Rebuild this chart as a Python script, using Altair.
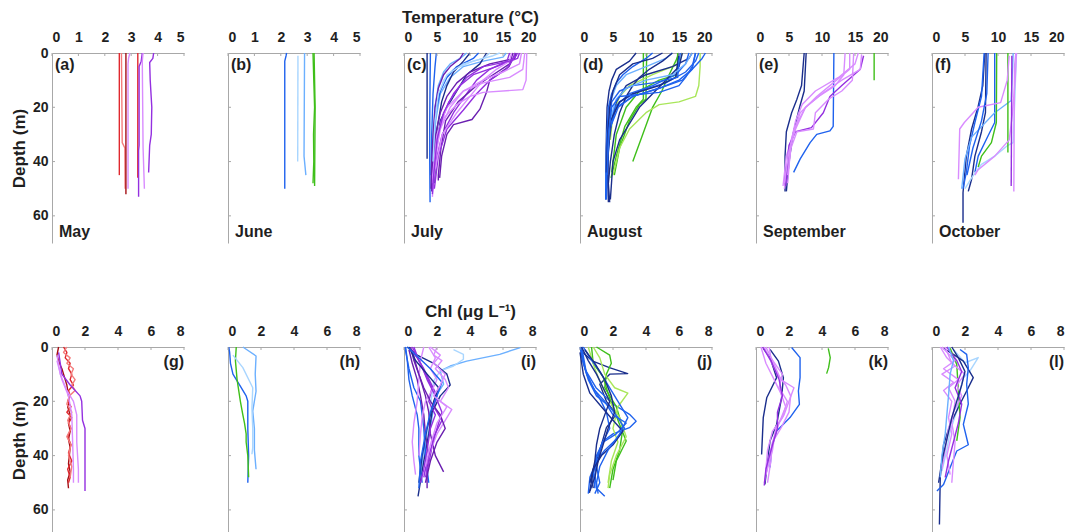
import altair as alt
import pandas as pd

FONT = "Liberation Sans"
TXT = "#1f1f1f"
AX = "#a8a8a8"
COLORS = {
    "dred": "#a50f15", "red": "#e0282e", "lred": "#f47c7c",
    "purple": "#9430e0", "dpurple": "#6a1fb0", "orchid": "#d98cff",
    "navy": "#1a2e8c", "blue": "#1f62ee", "lblue": "#6cb0ff", "vlblue": "#a9d6ff",
    "green": "#3fbf1a", "lgreen": "#a9e65a",
}

# ---- profiles: (colour key, depths in m, values) ----
TEMP_MAY = [
    ("red", [0, 45], [2.55, 2.55]),
    ("lred", [0, 33, 35, 50], [2.63, 2.66, 2.76, 2.77]),
    ("dred", [0, 52], [2.8, 2.8]),
    ("orchid", [0, 2, 4, 50], [2.95, 2.9, 2.88, 2.88]),
    ("red", [0, 46], [3.25, 3.25]),
    ("purple", [0, 3, 5, 34, 36, 53], [3.42, 3.38, 3.3, 3.3, 3.28, 3.28]),
    ("orchid", [0, 3, 35, 50], [3.45, 3.42, 3.45, 3.5]),
    ("purple", [0, 2, 3.5, 10, 20, 30, 34, 44], [3.85, 3.82, 3.7, 3.72, 3.78, 3.76, 3.7, 3.66]),
]
TEMP_JUN = [
    ("blue", [0, 1, 3, 50], [2.22, 2.2, 2.15, 2.15]),
    ("vlblue", [1, 40], [2.65, 2.64]),
    ("lblue", [0, 38, 40, 45], [2.9, 2.88, 2.9, 2.95]),
    ("green", [0, 10, 20, 30, 40, 48], [3.22, 3.25, 3.28, 3.24, 3.25, 3.22]),
    ("green", [0, 20, 49], [3.26, 3.3, 3.28]),
]
TEMP_JUL = [
    ("navy", [0, 39], [3.5, 3.5]),
    ("blue", [0, 10, 25, 40, 55], [4.0, 3.95, 3.9, 3.9, 3.95]),
    ("blue", [0, 5, 15, 30, 45], [4.9, 4.7, 4.4, 4.2, 4.1]),
    ("lblue", [0, 2, 4, 7, 12, 20, 35, 48], [9.5, 8.5, 7, 6, 5.2, 4.7, 4.4, 4.3]),
    ("vlblue", [0, 1, 3, 6, 10, 18, 30, 45], [14.5, 13.5, 10.5, 7.5, 6, 5, 4.6, 4.4]),
    ("lblue", [0, 1.5, 3, 5, 9, 15, 25, 40], [15.5, 15, 12, 9, 7, 5.5, 4.8, 4.5]),
    ("blue", [0, 2, 5, 9, 14, 22, 35, 50], [11.3, 10.5, 8, 6.5, 5.5, 4.8, 4.4, 4.2]),
    ("navy", [0, 3, 7, 12, 18, 28, 40, 50], [10, 9, 7.5, 6.5, 5.7, 5, 4.6, 4.3]),
    ("navy", [0, 4, 8, 14, 20, 25, 35, 48], [12.5, 11.5, 9.5, 8, 6.5, 5.5, 4.9, 4.6]),
    ("dpurple", [0, 1, 5, 10, 14.5, 20.7, 24.5, 26.4, 30, 38, 46], [16.8, 16.7, 15.9, 13, 12.5, 11.5, 10.3, 7.5, 6.5, 5.7, 5.4]),
    ("dpurple", [0, 2, 4, 7, 11, 16, 22, 30, 42, 51], [17, 16.8, 13, 10, 8, 6.5, 5.5, 4.8, 4.3, 4.2]),
    ("purple", [0, 2, 5, 8, 12, 18, 25, 35, 50], [17.5, 17.2, 14, 10.5, 8.5, 6.8, 5.6, 4.8, 4.4]),
    ("purple", [0, 3, 6, 10, 15, 22, 30, 40, 48], [16, 15.6, 13, 11, 9.5, 7.5, 5.8, 4.8, 4.3]),
    ("dpurple", [0, 4, 8, 12, 18, 25, 35, 45, 47], [16.5, 16, 13.5, 11, 8.2, 6.3, 5.6, 5.2, 5.2]),
    ("purple", [0, 2, 6, 10, 15, 21, 28, 38, 50], [16.8, 16.6, 15.5, 13, 11, 9, 6.5, 5.2, 4.6]),
    ("orchid", [0, 10, 13.5, 14.5, 16, 19, 24, 32, 45], [18.6, 18.5, 18, 12, 10, 8, 6, 5, 4.5]),
    ("orchid", [0, 6, 9, 11, 14, 20, 28, 40, 53], [18.3, 18, 16, 12, 9, 7, 5.5, 4.7, 4.3]),
    ("orchid", [0, 4, 7, 10, 14, 20, 30, 48], [17.8, 17.5, 15, 12, 9, 6.5, 5, 4.2]),
    ("orchid", [0, 3, 6, 10, 16, 22, 30, 44], [16.3, 16, 14, 12, 10, 8, 5.8, 4.6]),
    ("purple", [0, 1, 3, 5, 9, 15, 22, 32, 45, 52], [17.2, 17, 16, 12, 9.5, 7.5, 6, 5, 4.5, 4.3]),
    ("dpurple", [0, 2, 5, 8, 13, 20, 30, 40, 50], [9, 8.5, 7, 6, 5.2, 4.7, 4.4, 4.2, 4.1]),
    ("vlblue", [0, 2, 4, 8, 15, 25, 40], [13, 12, 9, 6.5, 5.2, 4.7, 4.4]),
]
TEMP_AUG = [
    ("green", [0, 17, 19, 25, 35, 45], [10.1, 10.0, 9, 7.5, 6, 5.2]),
    ("green", [0, 17, 20, 27, 38, 46], [9.6, 9.6, 8.5, 6.8, 5.5, 4.7]),
    ("green", [0, 3, 8, 14, 20, 30, 40], [15, 14.5, 13.5, 12.4, 11, 9.5, 8.0]),
    ("green", [0, 8, 10, 14, 20, 30, 44], [14.8, 14.7, 12, 9, 7, 5.5, 4.8]),
    ("lgreen", [0, 5, 12, 16, 18, 19, 22, 28, 35, 45], [18.2, 18.2, 18, 17.5, 15, 12, 10, 7.5, 6, 5]),
    ("lgreen", [0, 4, 8, 12, 16, 22, 32], [15.5, 15, 11, 7.5, 6, 5, 4.6]),
    ("navy", [0, 3, 6, 10, 14, 20, 30, 45, 54], [8.5, 7.5, 5.5, 4.8, 4.4, 4.1, 4.0, 3.9, 3.9]),
    ("navy", [0, 2, 5, 8, 12, 18, 25, 35, 45, 55], [17, 16.5, 14, 10, 7, 5.5, 4.8, 4.3, 4.2, 4.5]),
    ("blue", [0, 2, 6, 10, 13, 16, 20, 30, 45, 54], [19, 18.5, 17, 15, 12, 8, 5.5, 4.3, 4, 3.9]),
    ("blue", [0, 3, 7, 11, 14, 18, 25, 40, 53], [18, 17.5, 16, 13, 9, 6, 4.6, 4.1, 4.0]),
    ("blue", [0, 4, 8, 12, 15, 20, 30, 50], [16.5, 16, 14.5, 11, 7.5, 5.2, 4.4, 4.0]),
    ("lblue", [0, 2, 5, 8, 12, 18, 30, 50], [14, 13, 10, 7, 5.5, 4.6, 4.1, 3.9]),
    ("navy", [0, 3, 6, 9, 12, 16, 22, 30, 40, 48], [14, 12.5, 10.5, 9, 8, 7, 6, 5.2, 4.6, 4.3]),
    ("navy", [0, 5, 10, 15, 20, 26, 32, 40, 54], [15.5, 15, 13, 11, 9, 7.5, 6, 5, 4.6]),
    ("blue", [0, 2, 5, 8, 11, 15, 20, 35, 52], [11, 10, 8, 6.5, 5.5, 4.8, 4.3, 4.0, 3.9]),
    ("blue", [0, 6, 10, 13, 16, 20, 28, 45, 54], [17.5, 17, 15.5, 12, 8, 5.8, 4.5, 4.1, 4.0]),
    ("navy", [0, 4, 9, 12, 15, 18, 25, 40, 55], [15, 14.8, 14.5, 12, 8, 6, 4.6, 4.2, 4.3]),
    ("blue", [0, 3, 9, 11, 12, 14, 18, 30, 50], [15.2, 15, 14.8, 11, 8, 6, 4.8, 4.2, 4.0]),
    ("lblue", [0, 4, 8, 10, 13, 17, 25, 40], [17, 16, 14, 10, 7, 5.5, 4.5, 4.1]),
    ("navy", [0, 2, 4, 8, 14, 20, 30, 44], [12.5, 11, 8, 6, 5, 4.5, 4.2, 4.0]),
    ("blue", [0, 5, 9, 12, 14.5, 16, 20, 30, 45], [17.5, 17, 16, 15, 12, 6, 4.8, 4.3, 4.1]),
]
TEMP_SEP = [
    ("green", [0, 10], [17.9, 17.9]),
    ("blue", [0, 27, 28.7, 30, 33, 39, 44], [11.8, 11.7, 11.2, 9.2, 8.2, 6.7, 5.7]),
    ("navy", [0, 12, 17, 22, 29, 38, 51], [7.3, 6.9, 6.2, 5.4, 4.6, 4.4, 4.4]),
    ("navy", [0, 14, 20, 30, 40, 51], [7.6, 7.3, 6.6, 5.6, 5.0, 4.6]),
    ("orchid", [0, 6, 11, 16, 22, 29, 38, 49], [14.2, 14.2, 11.7, 9.2, 6.7, 5.7, 4.6, 4.1]),
    ("orchid", [0, 8, 12, 16, 20, 26, 34, 44, 50], [13.5, 13.3, 12, 9.5, 7.5, 6.2, 5.2, 4.6, 4.3]),
    ("purple", [1, 6, 12, 16, 22, 27.5, 29, 34, 49], [16.3, 15.8, 13, 11.2, 10.2, 8.4, 6, 5, 4.5]),
    ("orchid", [0.5, 6, 10, 15, 20, 28, 36, 48], [16, 15.8, 13, 10, 7.5, 6, 5, 4.3]),
    ("orchid", [0, 10, 14, 17, 22, 28, 29, 35, 45], [14.8, 14.6, 13, 11, 9, 8.7, 6.2, 5.3, 4.8]),
    ("orchid", [0, 4, 9, 14, 19, 25, 33, 48], [15.5, 15, 12.5, 9, 7, 6, 5.3, 4.8]),
]
TEMP_OCT = [
    ("navy", [0, 12, 19.6, 28, 38, 51.5, 62.5], [8.0, 7.7, 7.0, 6.0, 5.2, 4.7, 4.7]),
    ("navy", [0, 22, 29, 38, 46.5, 51], [8.2, 8.1, 7.5, 6.5, 6.0, 5.5]),
    ("blue", [0, 16, 25.6, 34, 44, 50], [7.9, 7.5, 6.5, 5.7, 5.2, 4.7]),
    ("blue", [0, 25.6, 30.5, 38, 44], [9.5, 9.5, 8.5, 7.0, 6.5]),
    ("lblue", [0, 17.5, 22, 31, 39, 50], [12.3, 12.0, 9.5, 6.0, 5.0, 4.5]),
    ("vlblue", [0, 33, 34, 38, 41, 46, 50], [12.8, 12.3, 11.5, 9.5, 7.5, 6.0, 5.0]),
    ("green", [0, 25.6, 33, 38, 42], [9.8, 9.75, 9.0, 7.5, 7.0]),
    ("green", [0, 36.7], [11.5, 11.5]),
    ("orchid", [1, 10, 18.3, 20, 25.6, 28, 46.5], [11.7, 11.4, 10.4, 7.0, 4.9, 4.2, 4.0]),
    ("orchid", [0, 10, 22, 32, 38, 43, 45], [12.8, 12.6, 12.2, 11.7, 9.5, 7.0, 6.5]),
    ("purple", [1, 49], [12.1, 12.0]),
    ("orchid", [0, 5, 51], [12.7, 12.5, 12.4]),
    ("blue", [0, 15, 25, 35, 45], [8.5, 8.3, 7.5, 6.2, 5.3]),
]
CHL_MAY = [
    ("dred", [0, 3, 6, 8, 10, 12, 14, 16, 18, 20, 22, 25, 28, 31, 34, 37, 40, 43, 46, 49, 52],
     [0.4, 0.3, 0.45, 0.6, 0.7, 0.8, 0.9, 0.95, 1.0, 1.05, 0.95, 1.1, 1.0, 1.1, 1.0, 1.1, 1.05, 1.0, 1.1, 0.95, 1.0]),
    ("red", [0, 2, 4, 6, 8, 10, 12, 14, 16, 18, 20, 22, 24, 26, 28, 30, 33, 36, 39, 42, 45, 48, 50],
     [0.7, 0.9, 0.8, 1.1, 1.0, 1.2, 1.1, 1.3, 1.0, 1.1, 0.95, 1.15, 0.9, 1.2, 1.0, 1.15, 0.95, 1.15, 1.0, 1.2, 0.95, 1.1, 1.0]),
    ("lred", [0, 2, 4, 6, 8, 10, 12, 14, 16, 18, 21, 24, 27, 30, 33, 36, 40, 44, 48],
     [0.9, 0.7, 1.1, 0.9, 1.3, 1.15, 1.4, 1.2, 1.4, 1.05, 0.9, 1.2, 0.95, 1.15, 0.9, 1.15, 1.0, 1.2, 1.1]),
    ("purple", [2, 10, 14, 18, 20, 27, 30, 40, 53], [0.4, 0.6, 1.1, 1.7, 1.8, 1.85, 2.0, 2.0, 2.0]),
    ("orchid", [3, 10, 16, 20, 25, 35, 45, 50], [0.3, 0.5, 0.9, 1.3, 1.5, 1.5, 1.6, 1.6]),
    ("orchid", [5, 12, 18, 25, 35, 45, 50], [0.3, 0.6, 1.0, 1.2, 1.25, 1.3, 1.3]),
]
CHL_JUN = [
    ("blue", [0, 2, 6, 10, 15, 18, 20, 30, 40, 50], [0.05, 0.1, 0.15, 0.3, 0.8, 1.1, 1.2, 1.2, 1.25, 1.2]),
    ("green", [0, 5, 12, 20, 25, 28, 32, 35, 40, 48], [0.5, 0.45, 0.55, 0.75, 0.9, 1.0, 1.1, 1.1, 1.2, 1.25]),
    ("lblue", [0, 3.3, 10, 16.3, 23.6, 30, 38, 45], [0.9, 1.7, 1.65, 1.7, 1.5, 1.6, 1.6, 1.7]),
    ("vlblue", [3, 7.6, 15, 22.6, 30, 37, 39.5], [0.3, 0.9, 1.5, 1.45, 1.5, 1.5, 1.45]),
]
CHL_JUL = [
    ("lblue", [0.2, 2.7, 5.2, 7, 8.8, 11.3, 13.7, 17.4, 22, 29.7, 38, 47], [7.05, 5.8, 3.8, 2.8, 2.2, 2.3, 2.4, 2.0, 1.8, 1.6, 1.2, 1.0]),
    ("vlblue", [1, 2.7, 4.5, 7, 8.8, 12.5, 22, 34, 44], [3.0, 3.6, 3.6, 3.0, 2.2, 1.8, 1.6, 1.4, 1.2]),
    ("navy", [0, 3, 6, 10, 14, 18, 24, 32, 42, 55], [0.2, 0.8, 1.8, 2.6, 2.8, 2.2, 1.7, 1.5, 1.2, 0.85]),
    ("blue", [0, 5, 12, 18, 25, 30, 40, 50], [0.1, 0.2, 0.3, 0.5, 0.8, 0.9, 0.9, 1.1]),
    ("blue", [0, 8, 15, 20, 30, 40, 50], [0.05, 0.3, 0.6, 1.0, 1.2, 1.3, 1.5]),
    ("dpurple", [1, 6, 12, 18, 24, 32, 40, 46], [0.5, 0.7, 1.0, 1.3, 1.5, 1.6, 1.9, 2.4]),
    ("dpurple", [1, 6, 12, 18, 25, 32, 40, 46, 52], [0.3, 0.5, 0.8, 1.0, 1.2, 1.3, 1.5, 1.4, 1.4]),
    ("purple", [1, 4, 8, 13, 18, 22, 27, 33, 40, 48], [0.4, 0.8, 1.2, 1.6, 2.0, 1.8, 2.3, 1.8, 1.6, 1.3]),
    ("purple", [0, 5, 10, 15, 20, 25, 30, 38, 45, 50], [0.6, 0.9, 1.3, 1.7, 1.5, 1.9, 1.6, 1.4, 1.2, 1.0]),
    ("orchid", [0, 3, 5, 8, 12, 15, 20, 23, 27, 32, 40, 47], [2.0, 1.8, 2.3, 1.9, 2.5, 2.7, 2.2, 2.9, 2.5, 2.0, 1.5, 1.2]),
    ("orchid", [0, 5, 12, 20, 28, 35, 42, 47], [1.2, 1.0, 0.9, 0.8, 0.6, 0.5, 0.6, 0.7]),
    ("orchid", [0, 4, 8, 12, 16, 20, 26, 32, 40], [1.5, 1.9, 1.6, 2.0, 1.7, 1.3, 1.1, 1.0, 0.9]),
    ("purple", [0, 6, 12, 18, 24, 30, 36, 42, 48], [0.5, 1.0, 1.4, 1.9, 2.3, 2.0, 1.7, 1.4, 1.2]),
    ("dpurple", [0, 5, 10, 15, 20, 25, 30, 35, 42, 50], [0.4, 0.6, 0.9, 1.2, 1.6, 2.2, 2.5, 2.0, 1.6, 1.3]),
    ("navy", [0, 5, 10, 15, 20, 30, 40, 50], [0.3, 0.7, 1.4, 2.1, 1.8, 1.4, 1.1, 0.9]),
    ("blue", [0, 4, 8, 13, 18, 24, 32, 42, 52], [0.2, 0.9, 1.6, 2.3, 2.0, 1.6, 1.3, 1.0, 0.9]),
    ("orchid", [0, 3, 6, 10, 14, 18, 22, 28, 36, 44], [1.6, 2.2, 1.8, 2.5, 2.2, 1.8, 2.6, 2.0, 1.6, 1.3]),
]
CHL_AUG = [
    ("navy", [1.5, 5.2, 7.6, 9.8, 10, 13.7, 20, 24.8, 29.7, 38, 47, 53.7], [0.06, 0.77, 1.78, 2.89, 1.8, 1.2, 1.6, 2.2, 1.6, 1.2, 0.77, 0.57]),
    ("blue", [2.7, 8.8, 15, 21, 24.8, 27.3, 29.7, 32, 34.6, 40.8, 47, 52, 55], [0.06, 0.36, 0.97, 2.0, 3.0, 3.4, 3.0, 2.0, 1.4, 1.0, 0.9, 1.0, 1.5]),
    ("green", [0, 6, 11, 19, 28.5, 34.6, 42, 49], [0.7, 0.8, 1.4, 1.8, 2.4, 2.8, 2.2, 2.0]),
    ("green", [0, 3, 6, 10, 15, 22, 30, 38, 45, 52], [1.0, 1.8, 1.9, 1.6, 1.5, 2.2, 2.6, 2.4, 2.0, 1.8]),
    ("lgreen", [0, 4, 10, 15, 17, 22, 30, 35, 42, 50], [0.8, 1.2, 1.5, 2.1, 2.9, 2.3, 2.0, 2.3, 1.9, 1.7]),
    ("lgreen", [0, 8, 14, 20, 26, 33, 40, 47, 52], [0.5, 0.9, 1.3, 1.8, 2.4, 2.8, 2.2, 1.8, 1.7]),
    ("blue", [0, 6, 12, 18, 22, 26, 30, 34, 38, 42, 48, 54], [0.0, 0.2, 0.5, 1.0, 1.8, 2.3, 2.7, 2.2, 1.5, 1.0, 0.6, 0.5]),
    ("blue", [0, 10, 16, 20, 25, 28, 32, 35, 40, 46, 52], [0.1, 0.4, 0.9, 1.5, 2.0, 2.8, 2.2, 1.4, 1.0, 0.8, 0.9]),
    ("blue", [0, 8, 14, 19, 24, 30, 36, 44, 50, 54], [0.05, 0.3, 0.7, 1.2, 1.6, 1.8, 1.3, 1.0, 1.2, 0.9]),
    ("navy", [2, 10, 17, 22, 27, 31, 36, 40, 45, 50], [0.0, 0.2, 0.6, 1.3, 2.0, 2.6, 2.0, 1.3, 0.8, 0.6]),
    ("navy", [0, 5, 10, 15, 20, 25, 30, 36, 42, 48, 52], [0.1, 0.5, 1.0, 1.4, 1.8, 1.5, 1.2, 1.0, 0.9, 0.7, 0.8]),
    ("blue", [0, 4, 9, 14, 20, 26, 32, 38, 44, 50, 54], [0.2, 0.6, 1.2, 1.7, 2.3, 2.9, 2.4, 1.7, 1.2, 1.0, 1.1]),
    ("navy", [1, 6, 12, 18, 24, 30, 36, 42, 48, 53], [0.3, 0.9, 1.5, 1.9, 2.1, 1.7, 1.4, 1.1, 0.9, 0.6]),
]
CHL_SEP = [
    ("green", [0.5, 3.9, 7.6, 9.8], [4.38, 4.5, 4.4, 4.28]),
    ("blue", [0.2, 3.9, 11.3, 16.2, 21.1, 26, 30.9, 37, 44.4], [2.16, 2.67, 2.67, 2.57, 2.63, 2.06, 1.25, 0.95, 0.85]),
    ("navy", [0.5, 3.9, 11.3, 18.7, 26, 39.6], [0.44, 0.85, 1.25, 0.65, 0.44, 0.34]),
    ("navy", [0.9, 5.2, 11.3, 18.7, 28.5, 34.6, 50.6], [0.85, 1.36, 1.66, 1.55, 1.25, 0.85, 0.54]),
    ("orchid", [0, 4, 10, 14, 18, 24, 30, 35, 42, 50], [0.5, 0.8, 1.3, 1.8, 2.1, 2.0, 1.5, 1.0, 0.9, 0.7]),
    ("orchid", [0, 5, 12, 15, 20, 25, 30, 38, 47], [0.6, 1.0, 1.5, 2.3, 2.0, 1.7, 1.2, 1.0, 0.6]),
    ("orchid", [0, 6, 12, 17, 22, 28, 33, 40, 50], [0.3, 0.6, 1.1, 1.5, 1.8, 1.4, 1.1, 0.8, 0.5]),
    ("orchid", [0, 4, 10, 15, 20, 26, 31, 38, 45], [0.8, 0.9, 1.6, 1.4, 1.9, 1.6, 1.0, 0.7, 0.6]),
    ("purple", [0, 5, 12, 18, 24, 30, 36, 45, 51], [0.4, 0.9, 1.4, 1.6, 1.3, 1.3, 1.0, 0.6, 0.5]),
]
CHL_OCT = [
    ("vlblue", [0.9, 5.8, 3.9, 8.8, 11.3, 16.2, 23.6, 31, 38, 45.7], [1.3, 2.0, 2.8, 2.3, 1.9, 1.7, 1.5, 1.1, 0.9, 0.6]),
    ("navy", [0.5, 2.7, 5.2, 11.3, 16.2, 21, 28.5, 36, 48, 65.4], [0.7, 1.3, 1.9, 2.5, 2.1, 1.7, 1.1, 0.7, 0.5, 0.45]),
    ("blue", [0.9, 2.7, 7.6, 13.8, 21, 28.5, 36, 38.3, 44.4, 50.6, 53], [1.7, 2.1, 2.2, 2.1, 2.2, 1.9, 2.2, 1.5, 1.1, 0.7, 0.3]),
    ("green", [0.5, 6.4, 16.2, 26, 34.6], [1.1, 1.5, 1.6, 1.7, 1.5]),
    ("orchid", [0, 4, 7, 10, 13, 16, 20, 26, 32, 40, 47], [0.5, 0.9, 1.4, 0.6, 1.3, 0.7, 1.2, 1.0, 1.2, 0.9, 1.1]),
    ("orchid", [0, 5, 8, 12, 15, 20, 28, 35, 42, 50], [0.6, 1.4, 0.7, 1.6, 1.0, 1.4, 1.2, 1.4, 1.3, 1.2]),
    ("orchid", [0, 6, 10, 14, 18, 24, 30, 38, 45], [0.8, 1.2, 2.0, 1.5, 1.8, 1.3, 1.0, 0.8, 0.6]),
    ("purple", [0, 5, 9, 15, 21, 28, 35, 42, 48], [0.9, 1.5, 1.8, 1.4, 1.8, 1.6, 1.3, 1.0, 0.8]),
    ("navy", [0, 4, 9, 14, 20, 26, 34, 42, 50], [1.2, 1.6, 2.0, 1.8, 1.5, 1.2, 0.9, 0.6, 0.4]),
    ("lblue", [0, 5, 10, 18, 25, 32, 40, 48], [1.0, 1.3, 1.1, 1.0, 0.9, 0.8, 0.6, 0.5]),
]

MONTHS = ["May", "June", "July", "August", "September", "October"]
LETTERS_TOP = ["(a)", "(b)", "(c)", "(d)", "(e)", "(f)"]
LETTERS_BOT = ["(g)", "(h)", "(i)", "(j)", "(k)", "(l)"]
TEMP_TICKS_SMALL = [0, 1, 2, 3, 4, 5]
TEMP_TICKS_LARGE = [0, 5, 10, 15, 20]
CHL_TICKS = [0, 2, 4, 6, 8]
DEPTH_TICKS = [0, 20, 40, 60]

W = 132
H_TOP, H_BOT = 190, 186
DMAX_TOP, DMAX_BOT = 70, 68.5


def profiles_df(profiles):
    rows = []
    for pid, (ck, depths, vals) in enumerate(profiles):
        for k, (d, v) in enumerate(zip(depths, vals)):
            rows.append(dict(pid=pid, ord=k, depth=d, val=v, col=COLORS[ck]))
    return pd.DataFrame(rows)


def panel(profiles, xmax, xticks, dmax, h, first, xtitle, letter, letter_right, month):
    df = profiles_df(profiles)
    xs = alt.Scale(domain=[0, xmax], nice=False)
    ys = alt.Scale(domain=[0, dmax], reverse=True, nice=False)
    if xtitle:
        xaxis = alt.Axis(orient="top", values=xticks, title=xtitle, labelPadding=9, titlePadding=4)
    else:
        xaxis = alt.Axis(orient="top", values=xticks, title=None, labelPadding=9)
    if first:
        yaxis = alt.Axis(values=DEPTH_TICKS, title="Depth (m)", labelPadding=4, titlePadding=4)
    else:
        yaxis = alt.Axis(values=DEPTH_TICKS, title=None, labels=False)
    lines = alt.Chart(df).mark_line(strokeWidth=1.4, strokeJoin="round").encode(
        x=alt.X("val:Q", scale=xs, axis=xaxis),
        y=alt.Y("depth:Q", scale=ys, axis=yaxis),
        detail="pid:N",
        order="ord:Q",
        color=alt.Color("col:N", scale=None),
    )
    xt = alt.Chart(pd.DataFrame({"val": xticks})).mark_rule(color=AX, strokeWidth=1).encode(
        x=alt.X("val:Q", scale=xs, axis=xaxis), y=alt.value(0), y2=alt.value(3))
    yt = alt.Chart(pd.DataFrame({"depth": DEPTH_TICKS[1:]})).mark_rule(color=AX, strokeWidth=1).encode(
        y=alt.Y("depth:Q", scale=ys, axis=yaxis), x=alt.value(0), x2=alt.value(3))
    layers = [lines, xt, yt]
    lab = alt.Chart(pd.DataFrame({"t": [letter]})).mark_text(
        font=FONT, fontSize=16, fontWeight="bold", color=TXT,
        align="right" if letter_right else "left", baseline="middle",
    ).encode(x=alt.value(W if letter_right else 3), y=alt.value(15 if letter_right else 12), text="t:N")
    layers.append(lab)
    if month:
        mon = alt.Chart(pd.DataFrame({"t": [month]})).mark_text(
            font=FONT, fontSize=16, fontWeight="bold", color=TXT, align="left", baseline="alphabetic",
        ).encode(x=alt.value(7), y=alt.value(184), text="t:N")
        layers.append(mon)
    return alt.layer(*layers).properties(width=W, height=h)


TOP = [TEMP_MAY, TEMP_JUN, TEMP_JUL, TEMP_AUG, TEMP_SEP, TEMP_OCT]
BOT = [CHL_MAY, CHL_JUN, CHL_JUL, CHL_AUG, CHL_SEP, CHL_OCT]

charts = []
for i, prof in enumerate(TOP):
    xmax, ticks = (5, TEMP_TICKS_SMALL) if i < 2 else (20, TEMP_TICKS_LARGE)
    charts.append(panel(prof, xmax, ticks, DMAX_TOP, H_TOP, i == 0,
                        "Temperature (°C)" if i == 2 else "", LETTERS_TOP[i], False, MONTHS[i]))
for i, prof in enumerate(BOT):
    charts.append(panel(prof, 8, CHL_TICKS, DMAX_BOT, H_BOT, i == 0,
                        "Chl (μg L⁻¹)" if i == 2 else "", LETTERS_BOT[i], True, ""))

chart = alt.concat(*charts, columns=6, spacing={"row": 104, "column": 44}, bounds="flush").properties(
    padding={"left": 10, "top": 8, "right": 2, "bottom": 0}
).configure_axis(
    labelFont=FONT, labelFontSize=14, labelFontWeight="bold", labelColor=TXT,
    titleFont=FONT, titleFontSize=17, titleFontWeight="bold", titleColor=TXT,
    domainColor=AX, domainWidth=1, ticks=False, tickSize=0, grid=False,
).configure_view(strokeWidth=0)

chart.save("out.html", embed_options={"renderer": "svg", "actions": False})
